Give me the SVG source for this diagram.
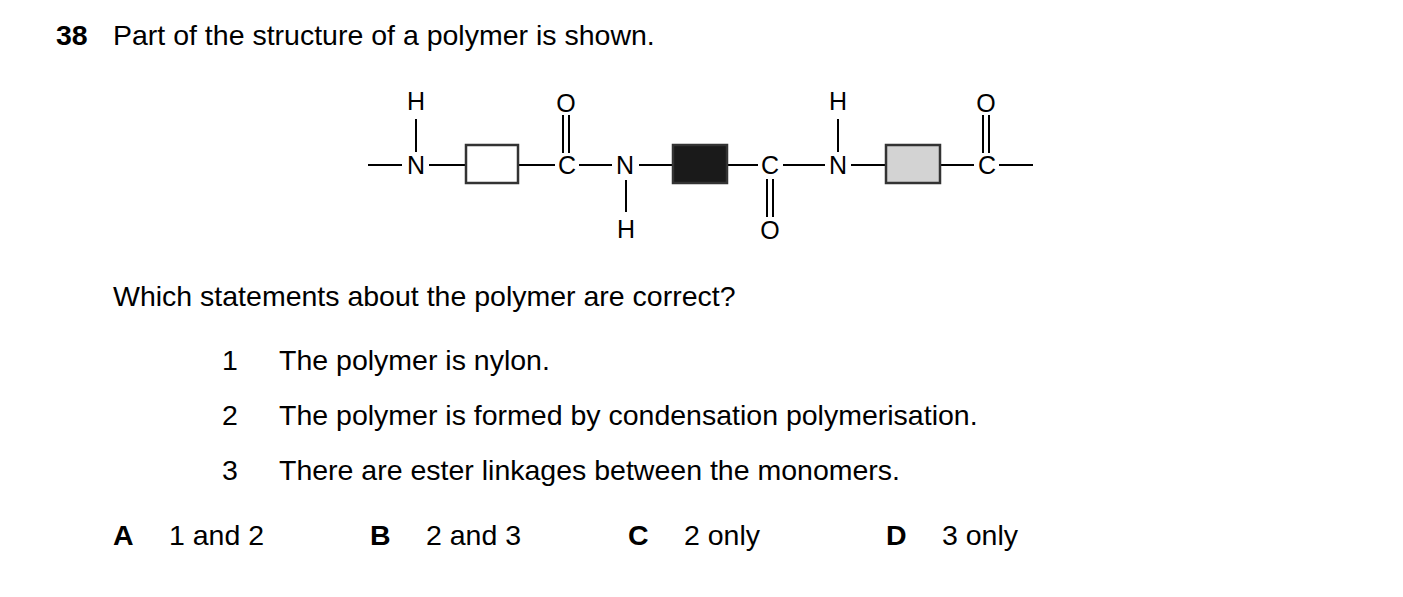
<svg xmlns="http://www.w3.org/2000/svg" width="1403" height="597" viewBox="0 0 1403 597">
<style>
text{font-family:"Liberation Sans",Arial,sans-serif;fill:#000}
.t{font-size:28.5px}
.a{font-size:25px;text-anchor:middle}
.b{stroke:#000;stroke-width:2;fill:none}
.box{stroke:#333;stroke-width:2.5}
</style>
<rect width="1403" height="597" fill="#fff"/>
<text x="56" y="45" class="t" font-weight="bold">38</text>
<text x="113" y="45" class="t">Part of the structure of a polymer is shown.</text>
<g id="connectors">
<path class="b" d="M368 165H402M429 165H466M518 165H555M579 165H612M639 165H673M727 165H758M783 165H825M851 165H886M940 165H974M999 165H1033"/>
<path class="b" d="M416 119V152M838 119V152M626 180V212"/>
<path class="b" d="M563 115V153M569 115V153M983 115V153M989 115V153M767 179V217M773 179V217"/>
</g>
<g id="box1"><rect class="box" x="466" y="145" width="52" height="38" fill="#fff"/></g>
<g id="box2"><rect class="box" x="673" y="145" width="54" height="38" fill="#1a1a1a"/></g>
<g id="box3"><rect class="box" x="886" y="145" width="54" height="38" fill="#d3d3d3"/></g>
<g id="atoms">
<text x="416" y="110" class="a">H</text>
<text x="416" y="174" class="a">N</text>
<text x="566" y="112" class="a">O</text>
<text x="567" y="174" class="a">C</text>
<text x="625" y="174" class="a">N</text>
<text x="626" y="238" class="a">H</text>
<text x="770" y="174" class="a">C</text>
<text x="770" y="239" class="a">O</text>
<text x="838" y="110" class="a">H</text>
<text x="838" y="174" class="a">N</text>
<text x="986" y="112" class="a">O</text>
<text x="987" y="174" class="a">C</text>
</g>
<text x="113" y="306" class="t">Which statements about the polymer are correct?</text>
<text x="222" y="370" class="t">1</text><text x="279" y="370" class="t">The polymer is nylon.</text>
<text x="222" y="425" class="t">2</text><text x="279" y="425" class="t">The polymer is formed by condensation polymerisation.</text>
<text x="222" y="480" class="t">3</text><text x="279" y="480" class="t">There are ester linkages between the monomers.</text>
<text x="113" y="545" class="t" font-weight="bold">A</text><text x="169" y="545" class="t">1 and 2</text>
<text x="370" y="545" class="t" font-weight="bold">B</text><text x="426" y="545" class="t">2 and 3</text>
<text x="628" y="545" class="t" font-weight="bold">C</text><text x="684" y="545" class="t">2 only</text>
<text x="886" y="545" class="t" font-weight="bold">D</text><text x="942" y="545" class="t">3 only</text>
</svg>
